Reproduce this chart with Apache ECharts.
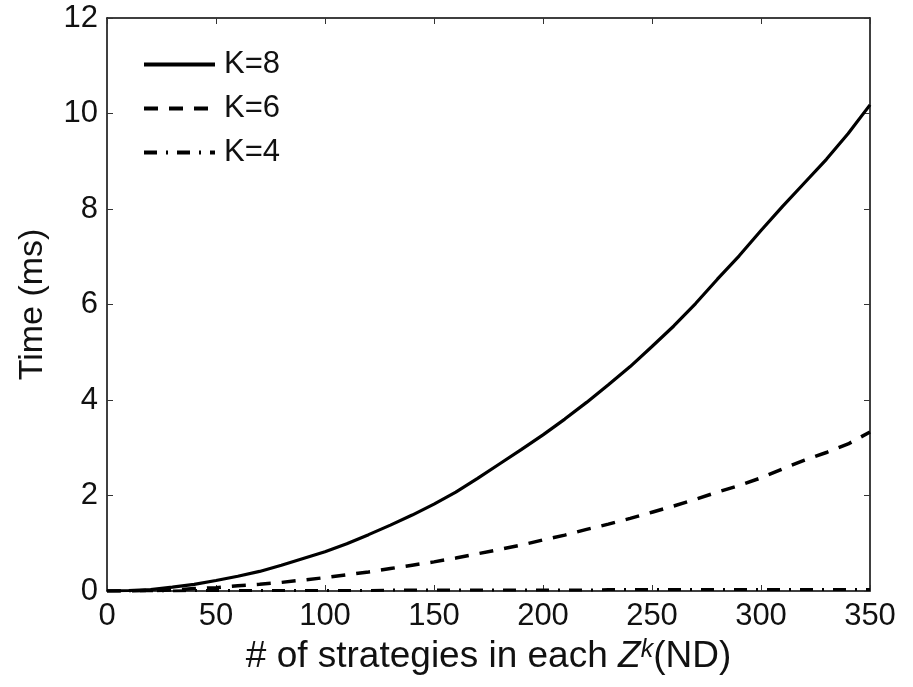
<!DOCTYPE html>
<html>
<head>
<meta charset="utf-8">
<script src="https://cdn.jsdelivr.net/npm/echarts@6/dist/echarts.min.js"></script>
<style>
  html, body { margin: 0; padding: 0; background: #fff; }
  #chart { width: 913px; height: 687px; }
</style>
</head>
<body>
<div id="chart"></div>
<script>
// strategies per Z^k (x axis)
const strategies = [0, 10, 20, 30, 40, 50, 60, 70, 80, 90, 100, 110, 120, 130, 140, 150, 160, 170,
  180, 190, 200, 210, 220, 230, 240, 250, 260, 270, 280, 290, 300, 310, 320, 330, 340, 350];

// time in ms
const timeK8 = [0, 0.01, 0.03, 0.08, 0.14, 0.22, 0.31, 0.41, 0.54, 0.68, 0.82, 0.99, 1.18, 1.38,
  1.59, 1.82, 2.07, 2.36, 2.66, 2.96, 3.27, 3.60, 3.95, 4.32, 4.70, 5.12, 5.55, 6.02, 6.53, 7.02,
  7.55, 8.06, 8.55, 9.04, 9.58, 10.18];
const timeK6 = [0, 0, 0.01, 0.02, 0.05, 0.07, 0.11, 0.14, 0.18, 0.23, 0.28, 0.34, 0.40, 0.47,
  0.54, 0.61, 0.69, 0.78, 0.87, 0.96, 1.07, 1.17, 1.29, 1.40, 1.52, 1.65, 1.78, 1.92, 2.07, 2.21,
  2.37, 2.56, 2.74, 2.90, 3.08, 3.33];
const timeK4 = [0, 0, 0, 0, 0.01, 0.01, 0.01, 0.01, 0.01, 0.01, 0.01, 0.01, 0.01, 0.02, 0.02,
  0.02, 0.02, 0.02, 0.02, 0.02, 0.02, 0.02, 0.02, 0.03, 0.03, 0.03, 0.03, 0.03, 0.03, 0.03, 0.03,
  0.03, 0.03, 0.03, 0.03, 0.03];

const xTicks = { min: 0, max: 350, interval: 50 };
const yTicks = { min: 0, max: 12, interval: 2 };

const FONT = '"Liberation Sans", Arial, Helvetica, sans-serif';

const toPairs = (ys) => strategies.map((x, i) => [x, ys[i]]);

const chart = echarts.init(document.getElementById('chart'));

const frameAxis = {
    axisLine: { show: true, onZero: false, lineStyle: { color: '#000', width: 1.5 } },
    axisTick: { show: true, inside: true, length: 6, lineStyle: { color: '#333', width: 1 } },
    splitLine: { show: false }
};

const option = {
    animation: false,
    backgroundColor: '#fff',
    grid: { left: 107, top: 18, right: 43, bottom: 96 },
    legend: {
        orient: 'vertical',
        left: 137,
        top: 44,
        itemWidth: 71,
        itemHeight: 20,
        itemGap: 13,
        itemStyle: { opacity: 0 },
        lineStyle: { width: 4 },
        textStyle: { fontFamily: FONT, fontSize: 31, color: '#111', padding: [0, 0, 0, 4] },
        data: ['K=8', 'K=6', 'K=4']
    },
    xAxis: [
        {
            type: 'value', position: 'bottom', ...xTicks, ...frameAxis,
            axisLabel: { fontFamily: FONT, fontSize: 31, color: '#111', margin: 10 },
            name: '{t|# of strategies in each }{z|Z}{k|k}{t|(ND)}',
            nameLocation: 'middle',
            nameGap: 47,
            nameTextStyle: {
                rich: {
                    t: { fontFamily: FONT, fontSize: 37, color: '#111' },
                    z: { fontFamily: FONT, fontSize: 37, color: '#111', fontStyle: 'italic' },
                    k: { fontFamily: FONT, fontSize: 25, color: '#111', fontStyle: 'italic', verticalAlign: 'top', padding: [0, 0, 10, 0] }
                }
            }
        },
        {
            type: 'value', position: 'top', ...xTicks, ...frameAxis,
            axisLabel: { show: false }
        }
    ],
    yAxis: [
        {
            type: 'value', position: 'left', ...yTicks, ...frameAxis,
            axisLabel: { fontFamily: FONT, fontSize: 31, color: '#111', margin: 9 },
            name: 'Time (ms)',
            nameLocation: 'middle',
            nameGap: 57,
            nameTextStyle: { fontFamily: FONT, fontSize: 34, color: '#111' }
        },
        {
            type: 'value', position: 'right', ...yTicks, ...frameAxis,
            axisLabel: { show: false }
        }
    ],
    series: [
        {
            name: 'K=8', type: 'line', symbol: 'none',
            data: toPairs(timeK8),
            lineStyle: { color: '#000', width: 3.2, type: 'solid' },
            itemStyle: { color: '#000' }
        },
        {
            name: 'K=6', type: 'line', symbol: 'none',
            data: toPairs(timeK6),
            lineStyle: { color: '#000', width: 3.5, type: [14, 11] },
            itemStyle: { color: '#000' }
        },
        {
            name: 'K=4', type: 'line', symbol: 'none',
            data: toPairs(timeK4),
            lineStyle: { color: '#000', width: 3, type: [13, 9, 2, 9] },
            itemStyle: { color: '#000' }
        }
    ]
};

chart.setOption(option);
</script>
</body>
</html>
